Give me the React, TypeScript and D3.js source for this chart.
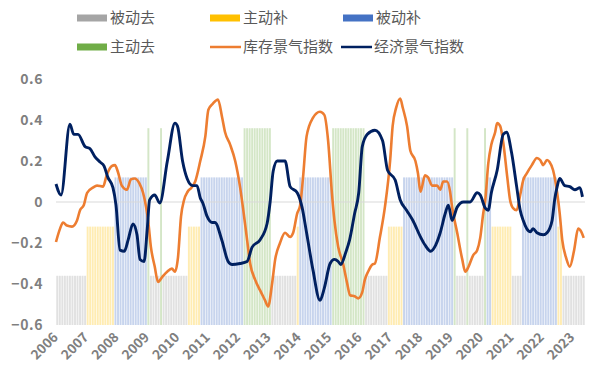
import React from "react";
import * as d3 from "d3";

// ---------- data ----------
const phaseNames = ["被动去", "主动补", "被动补", "主动去"];
const phaseLevels = [-0.36, -0.12, 0.12, 0.36];
const phaseColors = ["#a5a5a5", "#ffc000", "#4472c4", "#70ad47"];
// runs of months (from Jan 2006) and the phase of each run
const runPhase = [0, 1, 2, 3, 0, 3, 0, 1, 2, 3, 0, 1, 2, 3, 0, 1, 2, 3, 0, 3, 0, 3, 2, 1, 0, 2, 1, 0];
const runLength = [12, 11, 13, 1, 4, 1, 10, 5, 17, 11, 10, 1, 13, 13, 9, 6, 20, 1, 4, 1, 6, 1, 2, 8, 4, 14, 2, 9];

const yearLabels = ["2006", "2007", "2008", "2009", "2010", "2011", "2012", "2013", "2014", "2015", "2016", "2017", "2018", "2019", "2020", "2021", "2022", "2023"];
const yTicks = [-0.6, -0.4, -0.2, 0, 0.2, 0.4, 0.6];

// 库存景气指数 (months since Jan 2006, value)
const invMonths = [0, 1.6, 2.8, 4.3, 6.3, 8.3, 9.5, 11, 12.3, 14.6, 16.2, 18.6, 20, 22, 23.3, 24.5, 26, 28, 29.6, 31, 33, 34.4, 35.6, 36.4, 37.5, 39, 40.3, 42, 43.9, 45.8, 47, 48.2, 49.4, 50.6, 52, 53.5, 55, 57, 59, 60.2, 62, 64, 65.6, 66.8, 68.8, 70.8, 72.7, 74, 75.5, 76.7, 78.7, 80.6, 82.6, 83.8, 85.4, 86.6, 88.5, 90.5, 92.5, 93.7, 95.3, 96.4, 97.6, 99, 101.5, 104.3, 106, 107.5, 109, 110, 111.5, 113.4, 115, 116.2, 118, 119.4, 121, 122, 123.3, 125, 126, 128, 130, 132, 133, 134.4, 136, 137, 138.7, 140, 142, 143, 144, 145.8, 147, 148.6, 150.6, 151.8, 153, 154.5, 155.7, 156.5, 158.5, 160.5, 161.7, 163, 164.8, 166.4, 167.6, 168.8, 169.6, 170.8, 172, 173.5, 174.3, 175.5, 176.7, 178.3, 179.4, 180.6, 182, 183.4, 184.6, 186, 188, 190, 191.3, 192.5, 194, 195, 196.4, 198, 199, 200, 201.6, 203, 204.7, 206.3, 207.5, 208.5];
const invValues = [-0.195, -0.13, -0.1, -0.115, -0.12, -0.09, -0.04, -0.015, 0.045, 0.07, 0.08, 0.075, 0.13, 0.175, 0.18, 0.145, 0.08, 0.06, 0.11, 0.115, 0.09, 0.045, -0.025, -0.09, -0.22, -0.315, -0.39, -0.365, -0.34, -0.325, -0.34, -0.27, -0.07, 0.01, 0.05, 0.07, 0.1, 0.2, 0.32, 0.45, 0.48, 0.5, 0.415, 0.34, 0.28, 0.2, 0.075, -0.04, -0.185, -0.3, -0.38, -0.43, -0.48, -0.51, -0.395, -0.28, -0.2, -0.15, -0.17, -0.15, -0.055, -0.02, 0.12, 0.32, 0.41, 0.44, 0.425, 0.3, 0.045, -0.09, -0.22, -0.3, -0.395, -0.455, -0.46, -0.47, -0.44, -0.38, -0.34, -0.305, -0.3, -0.17, -0.02, 0.2, 0.37, 0.46, 0.505, 0.46, 0.37, 0.25, 0.2, 0.14, 0.05, 0.13, 0.12, 0.08, 0.08, 0.06, 0.1, 0.1, 0.05, -0.025, -0.15, -0.28, -0.34, -0.315, -0.26, -0.235, -0.175, -0.055, 0.01, 0.19, 0.28, 0.34, 0.385, 0.37, 0.29, 0.12, 0.01, -0.03, -0.04, 0.035, 0.107, 0.14, 0.18, 0.215, 0.205, 0.18, 0.205, 0.195, 0.155, 0.045, -0.055, -0.185, -0.275, -0.315, -0.235, -0.13, -0.145, -0.175];

// 经济景气指数
const ecoMonths = [0, 2, 5.5, 7, 8.7, 11.5, 13.4, 15.4, 17.4, 19, 20.5, 22.5, 23.7, 25.3, 27, 28.5, 30.4, 32, 33.2, 34.8, 36, 37, 39, 41, 44, 47, 48, 50, 51.8, 54, 55.7, 57, 58, 59.7, 61.7, 62.8, 65.5, 68, 69.6, 72.7, 75.5, 77.5, 80.6, 83.4, 84.6, 85.8, 87.4, 90.5, 92.5, 95.3, 97.2, 99, 101.5, 104.3, 106, 108.3, 110, 111.5, 112.5, 114.5, 116, 118, 119.6, 121, 123, 126, 129, 131, 134, 136, 138.5, 141, 144, 145.8, 148, 150, 151.8, 153.8, 155, 156.5, 158.5, 161, 163.6, 166.4, 167.6, 169.6, 170.8, 172, 174.3, 176.7, 178, 180, 182, 183.4, 184.6, 186, 187.4, 188.5, 190, 192.5, 194, 196, 197, 198, 199, 201, 203, 205, 207, 208];
const ecoValues = [0.088, 0.034, 0.38, 0.33, 0.33, 0.27, 0.26, 0.22, 0.195, 0.175, 0.12, 0.07, -0.015, -0.235, -0.24, -0.185, -0.107, -0.16, -0.28, -0.29, -0.14, 0.01, 0.034, -0.005, 0.2, 0.385, 0.37, 0.2, 0.115, 0.08, 0.08, 0.02, -0.005, -0.07, -0.1, -0.1, -0.185, -0.29, -0.305, -0.3, -0.29, -0.22, -0.185, -0.105, 0.0, 0.15, 0.2, 0.2, 0.075, 0.045, -0.025, -0.15, -0.33, -0.48, -0.42, -0.3, -0.28, -0.29, -0.305, -0.245, -0.185, -0.055, 0.045, 0.27, 0.33, 0.35, 0.3, 0.155, 0.107, 0.01, -0.04, -0.09, -0.17, -0.21, -0.24, -0.21, -0.15, -0.055, -0.015, -0.09, -0.025, 0.0, 0.0, 0.045, 0.035, -0.03, -0.04, 0.045, 0.155, 0.33, 0.34, 0.24, 0.075, -0.04, -0.09, -0.13, -0.145, -0.13, -0.15, -0.16, -0.15, -0.09, 0.01, 0.075, 0.115, 0.08, 0.075, 0.06, 0.07, 0.025];

const lineNames = ["库存景气指数", "经济景气指数"];
const lineColors = ["#ed7d31", "#002060"];

// ---------- layout ----------
const W = 594;
const H = 372;
const totalMonths = d3.sum(runLength);

export default function App() {
  const x = d3.scaleLinear().domain([0, totalMonths]).range([56, 585]);
  const y = d3.scaleLinear().domain([-0.6, 0.6]).range([325, 79]);

  // expand runs to monthly phases
  const months: { m: number; p: number }[] = [];
  let m = 0;
  runPhase.forEach((p, i) => {
    for (let k = 0; k < runLength[i]; k++) {
      months.push({ m, p });
      m++;
    }
  });

  const line = d3
    .line<[number, number]>()
    .x((d) => x(d[0]))
    .y((d) => y(d[1]))
    .curve(d3.curveMonotoneX);

  const invData = invMonths.map((mm, i) => [mm, invValues[i]] as [number, number]);
  const ecoData = ecoMonths.map((mm, i) => [mm, ecoValues[i]] as [number, number]);
  const mw = x(1) - x(0);
  const font = "'Noto Sans CJK SC', 'DejaVu Sans', sans-serif";

  const legendItems = [
    { label: phaseNames[0], color: phaseColors[0], type: "rect", lx: 77, ly: 18 },
    { label: phaseNames[1], color: phaseColors[1], type: "rect", lx: 210, ly: 18 },
    { label: phaseNames[2], color: phaseColors[2], type: "rect", lx: 343, ly: 18 },
    { label: phaseNames[3], color: phaseColors[3], type: "rect", lx: 77, ly: 47 },
    { label: lineNames[0], color: lineColors[0], type: "line", lx: 210, ly: 47 },
    { label: lineNames[1], color: lineColors[1], type: "line", lx: 341, ly: 47 },
  ];

  return (
    <svg
      width={W}
      height={H}
      style={{ position: "absolute", left: 0, top: 0, background: "#fff" }}
      fontFamily={font}
    >
      {/* phase bars */}
      <g>
        {months.map((d) => (
          <rect
            key={d.m}
            x={x(d.m) + 0.3}
            width={mw - 0.6}
            y={y(phaseLevels[d.p])}
            height={y(-0.6) - y(phaseLevels[d.p])}
            fill={phaseColors[d.p]}
            fillOpacity={d.p === 0 ? 0.33 : 0.3}
          />
        ))}
      </g>

      {/* zero line */}
      <line x1={x(0)} x2={x(totalMonths)} y1={y(0)} y2={y(0)} stroke="#d9d9d9" strokeWidth={1} />

      {/* y labels */}
      {yTicks.map((t) => (
        <text
          key={t}
          x={43}
          y={y(t)}
          dy="0.35em"
          textAnchor="end"
          fontSize={14}
          fontWeight={600}
          letterSpacing={0.6}
          fill="#7f7f7f"
        >
          {t === 0 ? "0" : d3.format(".1f")(t)}
        </text>
      ))}

      {/* year labels */}
      {yearLabels.map((lab, i) => (
        <text
          key={lab}
          transform={`translate(${x(i * 12) + 3},${338}) rotate(-45)`}
          textAnchor="end"
          fontSize={13.5}
          fontWeight={600}
          fill="#7f7f7f"
        >
          {lab}
        </text>
      ))}

      {/* lines */}
      <path d={line(invData) || ""} fill="none" stroke={lineColors[0]} strokeWidth={2.6} strokeLinejoin="round" />
      <path d={line(ecoData) || ""} fill="none" stroke={lineColors[1]} strokeWidth={2.9} strokeLinejoin="round" />

      {/* legend */}
      {legendItems.map((it) => (
        <g key={it.label}>
          {it.type === "rect" ? (
            <rect x={it.lx} y={it.ly - 3.5} width={30} height={7} fill={it.color} />
          ) : (
            <line x1={it.lx} x2={it.lx + 31} y1={it.ly} y2={it.ly} stroke={it.color} strokeWidth={2.5} />
          )}
          <text x={it.lx + 33} y={it.ly} dy="0.35em" fontSize={15} fill="#595959">
            {it.label}
          </text>
        </g>
      ))}
    </svg>
  );
}
